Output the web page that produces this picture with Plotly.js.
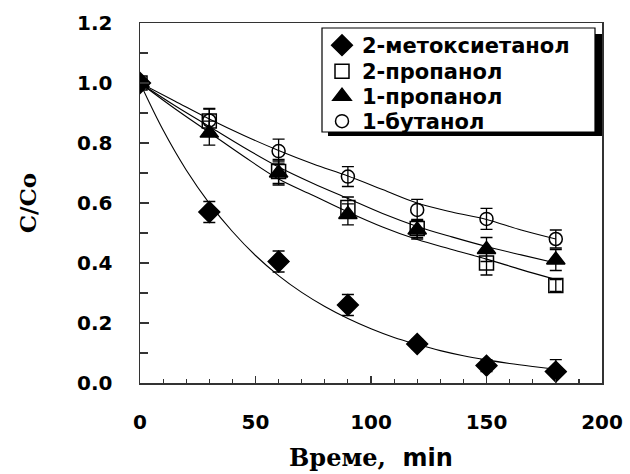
<!DOCTYPE html>
<html>
<head>
<meta charset="utf-8">
<script src="https://cdn.plot.ly/plotly-3.0.1.min.js"></script>
<style>html,body{margin:0;padding:0;background:#fff;}#chart{width:630px;height:474px;}</style>
</head>
<body>
<div id="chart"></div>
<script>
// Measured points (time, min)
const timePts = [0, 30, 60, 90, 120, 150, 180];
const metoxy = [1.0, 0.57, 0.405, 0.26, 0.13, 0.058, 0.038];
const metoxyErr = [0, 0.035, 0.035, 0.035, 0.015, 0.02, 0.04];
const prop2 = [1.0, 0.873, 0.705, 0.585, 0.515, 0.40, 0.325];
const prop2Err = [0, 0.04, 0.04, 0.035, 0.03, 0.04, 0.02];
const prop1 = [1.0, 0.833, 0.70, 0.562, 0.51, 0.445, 0.41];
const prop1Err = [0, 0.04, 0.04, 0.035, 0.03, 0.04, 0.035];
const but1 = [1.0, 0.875, 0.773, 0.688, 0.577, 0.547, 0.48];
const but1Err = [0, 0.04, 0.04, 0.033, 0.035, 0.035, 0.03];

// Fitted curves
const fitTimeA = [0, 10, 20, 30, 40, 50, 60, 70, 80, 90, 100, 110, 120, 130, 140, 150, 160, 170, 180];
const metoxyFit = [1.0, 0.843, 0.71, 0.599, 0.505, 0.425, 0.358, 0.302, 0.255, 0.215, 0.181, 0.152, 0.129, 0.108, 0.091, 0.077, 0.065, 0.055, 0.046];
const fitTimeB = [0, 15, 30, 45, 60, 75, 90, 105, 120, 135, 150, 165, 180];
const prop2Fit = [1.0, 0.915, 0.835, 0.755, 0.68, 0.625, 0.57, 0.52, 0.478, 0.445, 0.413, 0.378, 0.345];
const prop1Fit = [1.0, 0.925, 0.855, 0.785, 0.72, 0.665, 0.615, 0.565, 0.522, 0.487, 0.455, 0.427, 0.40];
const but1Fit = [1.0, 0.94, 0.88, 0.825, 0.775, 0.73, 0.69, 0.645, 0.60, 0.57, 0.545, 0.51, 0.48];

const names = ['2-метоксиетанол', '2-пропанол', '1-пропанол', '1-бутанол'];

const K = '#000';
function fit(x, y) {
  return {x: x, y: y, type: 'scatter', mode: 'lines', showlegend: false, hoverinfo: 'skip',
          line: {color: K, width: 1.1, shape: 'spline'}};
}
function pts(y, e, name, symbol, size, leg) {
  return {x: timePts, y: y, type: 'scatter', mode: 'markers', name: name, legend: leg,
          marker: {symbol: symbol, size: size, color: K, line: {color: K, width: 1.5}},
          error_y: {type: 'data', array: e, visible: true, color: K, thickness: 1.3, width: 6}};
}

const data = [
  fit(fitTimeA, metoxyFit), fit(fitTimeB, prop2Fit), fit(fitTimeB, prop1Fit), fit(fitTimeB, but1Fit),
  pts(metoxy, metoxyErr, names[0], 'diamond', 16, 'legend'),
  pts(prop2, prop2Err, names[1], 'square-open', 14, 'legend2'),
  pts(prop1, prop1Err, names[2], 'triangle-up', 16, 'legend3'),
  pts(but1, but1Err, names[3], 'circle-open', 13, 'legend4')
];

// plot area: x 140..602 px, y 23..383 px
const px = v => (v - 140) / 462;
const py = v => (383 - v) / 360;

const legFont = {family: 'DejaVu Sans', size: 21, color: K, weight: 'bold'};
function leg(rowCenter) {
  return {x: px(322), y: py(rowCenter - 20), xanchor: 'left', yanchor: 'top',
          bgcolor: 'rgba(0,0,0,0)', borderwidth: 0, font: legFont};
}

const tickFont = {family: 'DejaVu Sans', size: 20, color: K, weight: 'bold'};
const layout = {
  width: 630, height: 474,
  margin: {l: 140, r: 28, t: 23, b: 91},
  paper_bgcolor: '#fff', plot_bgcolor: '#fff',
  showlegend: true,
  legend: leg(45), legend2: leg(71), legend3: leg(96), legend4: leg(121),
  xaxis: {range: [0, 200], tickvals: [0, 50, 100, 150, 200], ticks: 'inside', ticklen: 7, tickwidth: 1.3,
          tickcolor: '#333', showline: true, linecolor: '#333', linewidth: 1.5, mirror: true,
          showgrid: false, zeroline: false, tickfont: tickFont, ticklabelstandoff: 20,
          minor: {dtick: 10, ticks: 'inside', ticklen: 4, tickwidth: 1.2, tickcolor: '#333', showgrid: false},
          title: {text: 'Време,  <span style="font-family:DejaVu Sans">min</span>',
                  font: {family: 'DejaVu Serif', size: 24, color: K, weight: 'bold'}, standoff: 16}},
  yaxis: {range: [0, 1.2], tickvals: [0, 0.2, 0.4, 0.6, 0.8, 1.0, 1.2], tickformat: '.1f',
          ticks: 'inside', ticklen: 9, tickwidth: 1.3, tickcolor: '#333',
          showline: true, linecolor: '#333', linewidth: 1.5, mirror: true,
          showgrid: false, zeroline: false, tickfont: tickFont, ticklabelstandoff: 22,
          minor: {dtick: 0.1, ticks: 'inside', ticklen: 8, tickwidth: 1.2, tickcolor: '#333', showgrid: false},
          title: {text: 'C/Co', font: {family: 'DejaVu Serif', size: 23, color: K, weight: 'bold'}, standoff: 34}},
  shapes: [
    {type: 'rect', xref: 'paper', yref: 'paper', x0: px(328), x1: px(602), y0: py(136), y1: py(34),
     fillcolor: K, line: {width: 0}, layer: 'above'},
    {type: 'rect', xref: 'paper', yref: 'paper', x0: px(322), x1: px(595), y0: py(132), y1: py(28),
     fillcolor: '#fff', line: {color: K, width: 1.2}, layer: 'above'}
  ]
};

Plotly.newPlot('chart', data, layout, {displayModeBar: false, staticPlot: true});
</script>
</body>
</html>
